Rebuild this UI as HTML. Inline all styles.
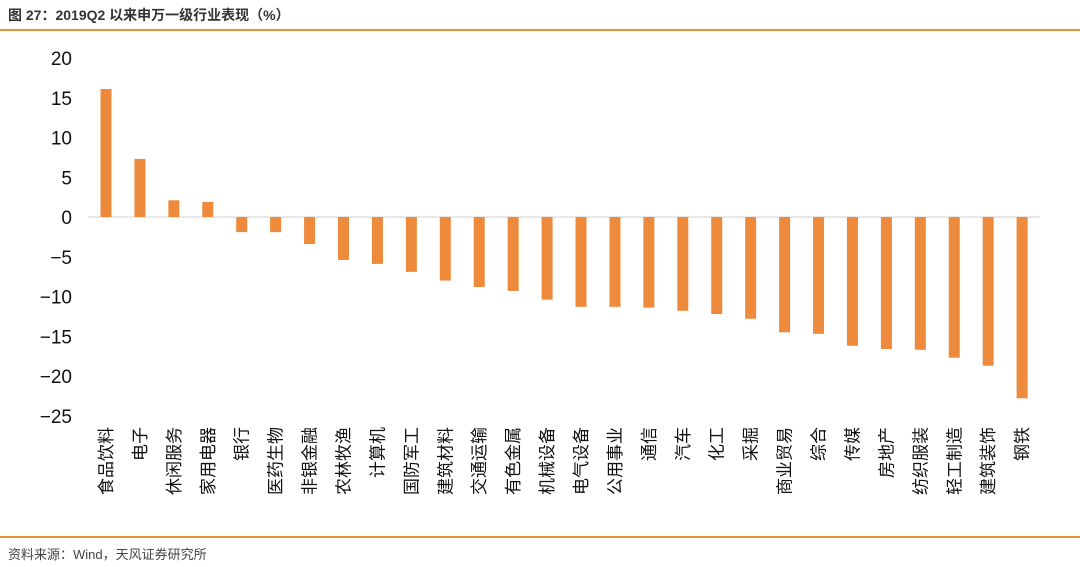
<!DOCTYPE html>
<html><head><meta charset="utf-8"><style>
body{margin:0;background:#fff;width:1080px;height:567px;overflow:hidden;font-family:"Liberation Sans","Noto Sans CJK SC",sans-serif;}
.title{position:absolute;left:8px;top:5px;font-size:14px;font-weight:bold;color:#333;}
.rule{position:absolute;left:0;width:1080px;height:2px;background:#e8913a;}
.src{position:absolute;left:8px;top:544px;font-size:13px;color:#444;}
</style></head><body>
<div class="title">图 27：2019Q2 以来申万一级行业表现（%）</div>
<div class="rule" style="top:29px"></div>
<svg id="chart" width="1080" height="567" style="position:absolute;left:0;top:0"></svg>
<div class="rule" style="top:536px"></div>
<div class="src">资料来源：Wind，天风证券研究所</div>
<script>
const categories=["食品饮料","电子","休闲服务","家用电器","银行","医药生物","非银金融","农林牧渔","计算机","国防军工","建筑材料","交通运输","有色金属","机械设备","电气设备","公用事业","通信","汽车","化工","采掘","商业贸易","综合","传媒","房地产","纺织服装","轻工制造","建筑装饰","钢铁"];
const values=[16.1,7.3,2.1,1.9,-1.9,-1.9,-3.4,-5.4,-5.9,-6.9,-8.0,-8.8,-9.3,-10.4,-11.3,-11.3,-11.4,-11.8,-12.2,-12.8,-14.5,-14.7,-16.2,-16.6,-16.7,-17.7,-18.7,-22.8];
const yTicks=[20,15,10,5,0,-5,-10,-15,-20,-25];
const NS="http://www.w3.org/2000/svg";
const svg=document.getElementById('chart');
const y=v=>217-v*7.95;
const x=i=>106+i*33.93;
function mk(t,a){const e=document.createElementNS(NS,t);for(const k in a)e.setAttribute(k,a[k]);svg.appendChild(e);return e;}
yTicks.forEach(t=>{const e=mk('text',{x:72,y:y(t)+7,'text-anchor':'end','font-size':19,fill:'#111'});e.textContent=String(t).replace('-','−');

});
const ax=mk('line',{x1:88,x2:1040,y1:y(0),y2:y(0),stroke:'#d0d0d0','stroke-width':1});


values.forEach((v,i)=>{const r=mk('rect',{x:x(i)-5.5,width:11,y:Math.min(y(v),y(0)),height:Math.abs(y(v)-y(0)),fill:'#ee8a3c'});


const t=mk('text',{x:0,y:0,'text-anchor':'end','font-size':17,fill:'#111',transform:`translate(${x(i)+6},427) rotate(-90)`});
t.textContent=categories[i];

});
</script>
</body></html>
